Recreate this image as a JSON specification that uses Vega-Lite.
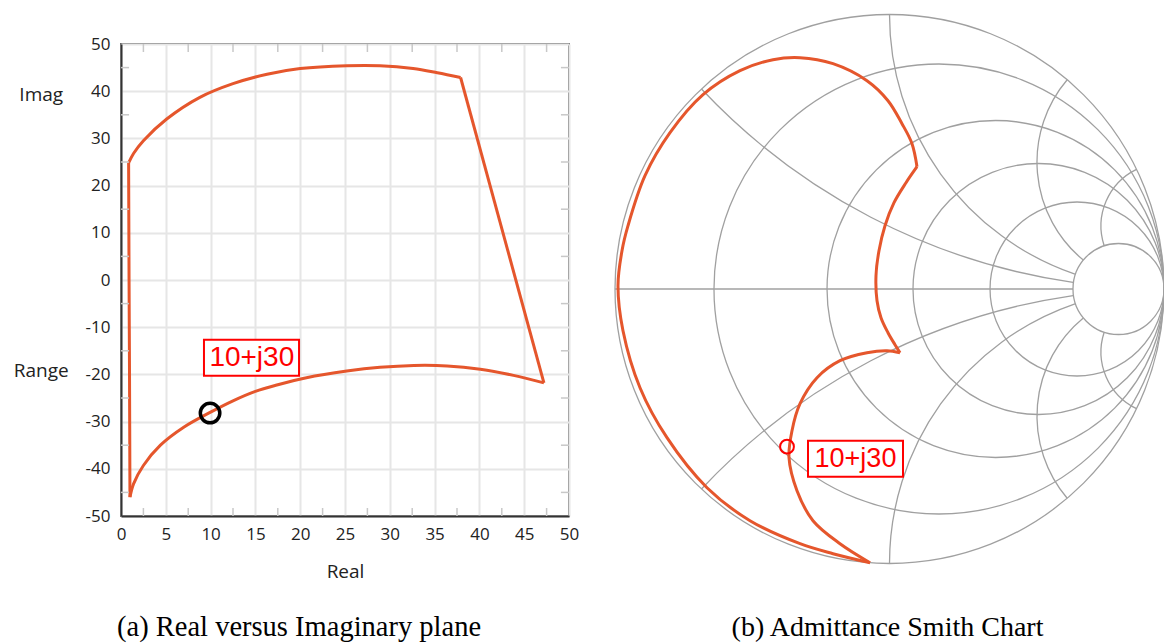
{
  "$schema": "https://vega.github.io/schema/vega-lite/v6.json",
  "background": "white",
  "padding": {"left": 12, "top": 11, "right": 0, "bottom": 0},
  "spacing": 31,
  "config": {"font": "Open Sans"},
  "datasets": {
    "poly": [
      {"i": 0, "seg": "left", "x": 1.0, "y": -46},
      {"i": 1, "seg": "left", "x": 0.95, "y": -20},
      {"i": 2, "seg": "left", "x": 0.9, "y": 0},
      {"i": 3, "seg": "left", "x": 0.85, "y": 24.8},
      {"i": 3, "seg": "top", "x": 0.85, "y": 24.8},
      {"i": 4, "seg": "top", "x": 1.4, "y": 26.8},
      {"i": 5, "seg": "top", "x": 2.5, "y": 29.5},
      {"i": 6, "seg": "top", "x": 5.1, "y": 34.1},
      {"i": 7, "seg": "top", "x": 8.8, "y": 38.7},
      {"i": 8, "seg": "top", "x": 12.5, "y": 41.6},
      {"i": 9, "seg": "top", "x": 16.3, "y": 43.6},
      {"i": 10, "seg": "top", "x": 20, "y": 44.8},
      {"i": 11, "seg": "top", "x": 25.2, "y": 45.4},
      {"i": 12, "seg": "top", "x": 28.9, "y": 45.4},
      {"i": 13, "seg": "top", "x": 32.6, "y": 44.8},
      {"i": 14, "seg": "top", "x": 35.3, "y": 43.9},
      {"i": 15, "seg": "top", "x": 37.9, "y": 42.9},
      {"i": 15, "seg": "right", "x": 37.9, "y": 42.9},
      {"i": 16, "seg": "right", "x": 47.2, "y": -21.8},
      {"i": 16, "seg": "bottom", "x": 47.2, "y": -21.8},
      {"i": 17, "seg": "bottom", "x": 43.8, "y": -20.2},
      {"i": 18, "seg": "bottom", "x": 40.1, "y": -18.9},
      {"i": 19, "seg": "bottom", "x": 36.4, "y": -18.2},
      {"i": 20, "seg": "bottom", "x": 32.7, "y": -18.1},
      {"i": 21, "seg": "bottom", "x": 28.9, "y": -18.5},
      {"i": 22, "seg": "bottom", "x": 25.2, "y": -19.3},
      {"i": 23, "seg": "bottom", "x": 20.7, "y": -20.7},
      {"i": 24, "seg": "bottom", "x": 17.5, "y": -22.2},
      {"i": 25, "seg": "bottom", "x": 15.0, "y": -23.6},
      {"i": 26, "seg": "bottom", "x": 12.5, "y": -25.6},
      {"i": 27, "seg": "bottom", "x": 10.0, "y": -28.0},
      {"i": 28, "seg": "bottom", "x": 7.0, "y": -31.2},
      {"i": 29, "seg": "bottom", "x": 4.4, "y": -35.0},
      {"i": 30, "seg": "bottom", "x": 2.5, "y": -39.3},
      {"i": 31, "seg": "bottom", "x": 1.4, "y": -43.2},
      {"i": 32, "seg": "bottom", "x": 1.0, "y": -46}
    ],
    "minor": [
      {"x": 2.5, "x2": 2.5, "y": -50, "y2": -48.3},
      {"x": 7.5, "x2": 7.5, "y": -50, "y2": -48.3},
      {"x": 12.5, "x2": 12.5, "y": -50, "y2": -48.3},
      {"x": 17.5, "x2": 17.5, "y": -50, "y2": -48.3},
      {"x": 22.5, "x2": 22.5, "y": -50, "y2": -48.3},
      {"x": 27.5, "x2": 27.5, "y": -50, "y2": -48.3},
      {"x": 32.5, "x2": 32.5, "y": -50, "y2": -48.3},
      {"x": 37.5, "x2": 37.5, "y": -50, "y2": -48.3},
      {"x": 42.5, "x2": 42.5, "y": -50, "y2": -48.3},
      {"x": 47.5, "x2": 47.5, "y": -50, "y2": -48.3},
      {"x": 2.5, "x2": 2.5, "y": 50, "y2": 48.3},
      {"x": 7.5, "x2": 7.5, "y": 50, "y2": 48.3},
      {"x": 12.5, "x2": 12.5, "y": 50, "y2": 48.3},
      {"x": 17.5, "x2": 17.5, "y": 50, "y2": 48.3},
      {"x": 22.5, "x2": 22.5, "y": 50, "y2": 48.3},
      {"x": 27.5, "x2": 27.5, "y": 50, "y2": 48.3},
      {"x": 32.5, "x2": 32.5, "y": 50, "y2": 48.3},
      {"x": 37.5, "x2": 37.5, "y": 50, "y2": 48.3},
      {"x": 42.5, "x2": 42.5, "y": 50, "y2": 48.3},
      {"x": 47.5, "x2": 47.5, "y": 50, "y2": 48.3},
      {"x": 0, "x2": 0.9, "y": -45, "y2": -45},
      {"x": 0, "x2": 0.9, "y": -35, "y2": -35},
      {"x": 0, "x2": 0.9, "y": -25, "y2": -25},
      {"x": 0, "x2": 0.9, "y": -15, "y2": -15},
      {"x": 0, "x2": 0.9, "y": -5, "y2": -5},
      {"x": 0, "x2": 0.9, "y": 5, "y2": 5},
      {"x": 0, "x2": 0.9, "y": 15, "y2": 15},
      {"x": 0, "x2": 0.9, "y": 25, "y2": 25},
      {"x": 0, "x2": 0.9, "y": 35, "y2": 35},
      {"x": 0, "x2": 0.9, "y": 45, "y2": 45},
      {"x": 50, "x2": 49.1, "y": -45, "y2": -45},
      {"x": 50, "x2": 49.1, "y": -35, "y2": -35},
      {"x": 50, "x2": 49.1, "y": -25, "y2": -25},
      {"x": 50, "x2": 49.1, "y": -15, "y2": -15},
      {"x": 50, "x2": 49.1, "y": -5, "y2": -5},
      {"x": 50, "x2": 49.1, "y": 5, "y2": 5},
      {"x": 50, "x2": 49.1, "y": 15, "y2": 15},
      {"x": 50, "x2": 49.1, "y": 25, "y2": 25},
      {"x": 50, "x2": 49.1, "y": 35, "y2": 35},
      {"x": 50, "x2": 49.1, "y": 45, "y2": 45}
    ],
    "lefttext": [
      {"x": -8.9, "y": 39.3, "t": "Imag"},
      {"x": -8.9, "y": -19.3, "t": "Range"}
    ],
    "grid": [
      {"cu": 0, "cv": 0, "r": 1, "t1": 0, "t2": 360},
      {"cu": 0.1803, "cv": 0, "r": 0.8197, "t1": 0, "t2": 360},
      {"cu": 0.3862, "cv": 0, "r": 0.6138, "t1": 0, "t2": 360},
      {"cu": 0.5428, "cv": 0, "r": 0.4572, "t1": 0, "t2": 360},
      {"cu": 0.6831, "cv": 0, "r": 0.3169, "t1": 0, "t2": 360},
      {"cu": 0.8342, "cv": 0, "r": 0.1658, "t1": 0, "t2": 360},
      {"cu": 1, "cv": 2.313, "r": 2.313, "t1": 188.24, "t2": 226.76},
      {"cu": 1, "cv": 1, "r": 1, "t1": 198.93, "t2": 270},
      {"cu": 1, "cv": 0.4627, "r": 0.4627, "t1": 219.62, "t2": 310.34},
      {"cu": 1, "cv": 0.2295, "r": 0.2295, "t1": 252, "t2": 334.14},
      {"cu": 1, "cv": -2.313, "r": 2.313, "t1": 313.24, "t2": 351.76},
      {"cu": 1, "cv": -1, "r": 1, "t1": 270, "t2": 341.07},
      {"cu": 1, "cv": -0.4627, "r": 0.4627, "t1": 229.66, "t2": 320.38},
      {"cu": 1, "cv": -0.2295, "r": 0.2295, "t1": 205.86, "t2": 288}
    ],
    "spath": [
      {"i": 0, "seg": "a", "u": -0.0710, "v": -0.9971},
      {"i": 1, "seg": "a", "u": -0.2058, "v": -0.9643},
      {"i": 2, "seg": "a", "u": -0.3260, "v": -0.9279},
      {"i": 3, "seg": "a", "u": -0.5082, "v": -0.8441},
      {"i": 4, "seg": "a", "u": -0.6648, "v": -0.7239},
      {"i": 5, "seg": "a", "u": -0.8106, "v": -0.5417},
      {"i": 6, "seg": "a", "u": -0.9089, "v": -0.3596},
      {"i": 7, "seg": "a", "u": -0.9709, "v": -0.1519},
      {"i": 8, "seg": "a", "u": -0.9891, "v": 0.0120},
      {"i": 9, "seg": "a", "u": -0.9745, "v": 0.1395},
      {"i": 10, "seg": "a", "u": -0.9526, "v": 0.2306},
      {"i": 11, "seg": "a", "u": -0.8907, "v": 0.4127},
      {"i": 12, "seg": "a", "u": -0.7996, "v": 0.5694},
      {"i": 13, "seg": "a", "u": -0.6794, "v": 0.7078},
      {"i": 14, "seg": "a", "u": -0.5446, "v": 0.7953},
      {"i": 15, "seg": "a", "u": -0.4244, "v": 0.8353},
      {"i": 16, "seg": "a", "u": -0.3260, "v": 0.8426},
      {"i": 17, "seg": "a", "u": -0.2058, "v": 0.8208},
      {"i": 18, "seg": "a", "u": -0.0820, "v": 0.7588},
      {"i": 19, "seg": "a", "u": -0.0055, "v": 0.6860},
      {"i": 20, "seg": "a", "u": 0.0455, "v": 0.6022},
      {"i": 21, "seg": "a", "u": 0.0820, "v": 0.5293},
      {"i": 22, "seg": "a", "u": 0.1002, "v": 0.4455},
      {"i": 22, "seg": "b", "u": 0.1002, "v": 0.4455},
      {"i": 23, "seg": "b", "u": 0.0601, "v": 0.3872},
      {"i": 24, "seg": "b", "u": 0.0164, "v": 0.3144},
      {"i": 25, "seg": "b", "u": -0.0164, "v": 0.2306},
      {"i": 26, "seg": "b", "u": -0.0383, "v": 0.1395},
      {"i": 27, "seg": "b", "u": -0.0492, "v": 0.0485},
      {"i": 28, "seg": "b", "u": -0.0455, "v": -0.0426},
      {"i": 29, "seg": "b", "u": -0.0310, "v": -0.1046},
      {"i": 30, "seg": "b", "u": -0.0055, "v": -0.1592},
      {"i": 31, "seg": "b", "u": 0.0200, "v": -0.2029},
      {"i": 32, "seg": "b", "u": 0.0383, "v": -0.2321},
      {"i": 32, "seg": "c", "u": 0.0383, "v": -0.2321},
      {"i": 33, "seg": "c", "u": -0.0091, "v": -0.2248},
      {"i": 34, "seg": "c", "u": -0.0820, "v": -0.2321},
      {"i": 35, "seg": "c", "u": -0.1803, "v": -0.2612},
      {"i": 36, "seg": "c", "u": -0.2641, "v": -0.3231},
      {"i": 37, "seg": "c", "u": -0.3260, "v": -0.4179},
      {"i": 38, "seg": "c", "u": -0.3552, "v": -0.5162},
      {"i": 39, "seg": "c", "u": -0.3661, "v": -0.6146},
      {"i": 40, "seg": "c", "u": -0.3370, "v": -0.7348},
      {"i": 41, "seg": "c", "u": -0.2787, "v": -0.8441},
      {"i": 42, "seg": "c", "u": -0.1803, "v": -0.9279},
      {"i": 43, "seg": "c", "u": -0.0710, "v": -0.9971}
    ]
  },
  "hconcat": [
    {
      "width": 448,
      "height": 472,
      "view": {"stroke": "#666666", "strokeWidth": 2},
      "layer": [
        {
          "data": {"name": "poly"},
          "mark": {"type": "line", "color": "#e5562c", "strokeWidth": 3, "interpolate": "catmull-rom"},
          "encoding": {
            "x": {
              "field": "x", "type": "quantitative",
              "scale": {"domain": [0, 50], "nice": false, "zero": false},
              "axis": {
                "values": [0, 5, 10, 15, 20, 25, 30, 35, 40, 45, 50],
                "labelExpr": "'' + datum.value",
                "grid": true, "gridColor": "#e6e6e6", "gridWidth": 2,
                "ticks": false, "tickSize": 0,
                "domain": true, "domainColor": "#333333", "domainWidth": 2,
                "labelPadding": 10, "labelFontSize": 17, "labelColor": "#222222", "labelFont": "Open Sans",
                "labelFlush": false,
                "title": "Real", "titleFont": "Open Sans", "titleFontWeight": "normal", "titleFontSize": 19,
                "titleColor": "#222222", "titlePadding": 20
              }
            },
            "y": {
              "field": "y", "type": "quantitative",
              "scale": {"domain": [-50, 50], "nice": false, "zero": false},
              "axis": {
                "values": [-50, -40, -30, -20, -10, 0, 10, 20, 30, 40, 50],
                "labelExpr": "'' + datum.value",
                "grid": true, "gridColor": "#e6e6e6", "gridWidth": 2,
                "ticks": false, "tickSize": 0,
                "domain": true, "domainColor": "#333333", "domainWidth": 2,
                "labelPadding": 11, "labelFontSize": 17, "labelColor": "#222222", "labelFont": "Open Sans",
                "labelFlush": false,
                "title": null
              }
            },
            "detail": {"field": "seg"},
            "order": {"field": "i"}
          }
        },
        {
          "data": {"name": "minor"},
          "mark": {"type": "rule", "color": "#c8c8c8", "strokeWidth": 1.5},
          "encoding": {
            "x": {"field": "x", "type": "quantitative"},
            "x2": {"field": "x2"},
            "y": {"field": "y", "type": "quantitative"},
            "y2": {"field": "y2"}
          }
        },
        {
          "data": {"values": [{"x": 9.26, "x2": 19.87, "y": -12.65, "y2": -20.26}]},
          "mark": {"type": "rect", "fill": "white", "stroke": "#ff0000", "strokeWidth": 2},
          "encoding": {
            "x": {"field": "x", "type": "quantitative"},
            "x2": {"field": "x2"},
            "y": {"field": "y", "type": "quantitative"},
            "y2": {"field": "y2"}
          }
        },
        {
          "data": {"values": [{"x": 14.6, "y": -16.5, "t": "10+j30"}]},
          "mark": {"type": "text", "font": "Liberation Sans", "fontSize": 28, "color": "#ff0000", "align": "center", "baseline": "middle"},
          "encoding": {
            "x": {"field": "x", "type": "quantitative"},
            "y": {"field": "y", "type": "quantitative"},
            "text": {"field": "t"}
          }
        },
        {
          "data": {"values": [{"x": 9.94, "y": -28.2}]},
          "mark": {"type": "point", "shape": "circle", "filled": false, "stroke": "#000000", "strokeWidth": 3.5, "size": 380, "opacity": 1},
          "encoding": {
            "x": {"field": "x", "type": "quantitative"},
            "y": {"field": "y", "type": "quantitative"}
          }
        },
        {
          "data": {"name": "lefttext"},
          "mark": {"type": "text", "font": "Open Sans", "fontSize": 19, "color": "#222222", "align": "center", "baseline": "middle"},
          "encoding": {
            "x": {"field": "x", "type": "quantitative"},
            "y": {"field": "y", "type": "quantitative"},
            "text": {"field": "t"}
          }
        },
        {
          "data": {"values": [{"x": 19.87, "y": -73.5, "t": "(a) Real versus Imaginary plane"}]},
          "mark": {"type": "text", "font": "Liberation Serif", "fontSize": 28.5, "color": "#000000", "align": "center", "baseline": "middle"},
          "encoding": {
            "x": {"field": "x", "type": "quantitative"},
            "y": {"field": "y", "type": "quantitative"},
            "text": {"field": "t"}
          }
        }
      ]
    },
    {
      "width": 549,
      "height": 549,
      "view": {"stroke": null},
      "layer": [
        {
          "data": {"name": "grid"},
          "mark": {"type": "arc", "filled": false, "stroke": "#a0a0a0", "strokeWidth": 1.3},
          "encoding": {
            "x": {"field": "cu", "type": "quantitative", "scale": {"domain": [-1, 1], "nice": false, "zero": false}, "axis": null},
            "y": {"field": "cv", "type": "quantitative", "scale": {"domain": [-1.1075, 0.8925], "nice": false, "zero": false}, "axis": null},
            "radius": {"field": "r", "type": "quantitative", "scale": {"type": "linear", "zero": true, "domain": [0, 1], "range": [0, 274.5]}, "stack": null},
            "radius2": {"field": "r"},
            "theta": {"field": "t1", "type": "quantitative", "scale": {"domain": [0, 360], "range": [0, 6.283185307179586]}, "stack": null},
            "theta2": {"field": "t2"}
          }
        },
        {
          "data": {"values": [{"u": -1, "u2": 0.6684, "v": 0}]},
          "mark": {"type": "rule", "color": "#a0a0a0", "strokeWidth": 1.3},
          "encoding": {
            "x": {"field": "u", "type": "quantitative", "axis": null},
            "x2": {"field": "u2"},
            "y": {"field": "v", "type": "quantitative", "axis": null}
          }
        },
        {
          "data": {"name": "spath"},
          "mark": {"type": "line", "color": "#e5562c", "strokeWidth": 3, "interpolate": "catmull-rom"},
          "encoding": {
            "x": {"field": "u", "type": "quantitative", "axis": null},
            "y": {"field": "v", "type": "quantitative", "axis": null},
            "detail": {"field": "seg"},
            "order": {"field": "i"}
          }
        },
        {
          "data": {"values": [{"u": -0.3734, "v": -0.5745}]},
          "mark": {"type": "point", "shape": "circle", "filled": false, "stroke": "#ff0000", "strokeWidth": 2, "size": 190, "opacity": 1},
          "encoding": {
            "x": {"field": "u", "type": "quantitative", "axis": null},
            "y": {"field": "v", "type": "quantitative", "axis": null}
          }
        },
        {
          "data": {"values": [{"u": -0.2969, "u2": 0.0492, "v": -0.5527, "v2": -0.6838}]},
          "mark": {"type": "rect", "fill": "white", "stroke": "#ff0000", "strokeWidth": 2},
          "encoding": {
            "x": {"field": "u", "type": "quantitative", "axis": null},
            "x2": {"field": "u2"},
            "y": {"field": "v", "type": "quantitative", "axis": null},
            "y2": {"field": "v2"}
          }
        },
        {
          "data": {"values": [{"u": -0.1239, "v": -0.6182, "t": "10+j30"}]},
          "mark": {"type": "text", "font": "Liberation Sans", "fontSize": 27, "color": "#ff0000", "align": "center", "baseline": "middle"},
          "encoding": {
            "x": {"field": "u", "type": "quantitative", "axis": null},
            "y": {"field": "v", "type": "quantitative", "axis": null},
            "text": {"field": "t"}
          }
        },
        {
          "data": {"values": [{"u": -0.0073, "v": -1.2339, "t": "(b) Admittance Smith Chart"}]},
          "mark": {"type": "text", "font": "Liberation Serif", "fontSize": 28, "color": "#000000", "align": "center", "baseline": "middle"},
          "encoding": {
            "x": {"field": "u", "type": "quantitative", "axis": null},
            "y": {"field": "v", "type": "quantitative", "axis": null},
            "text": {"field": "t"}
          }
        }
      ]
    }
  ]
}
